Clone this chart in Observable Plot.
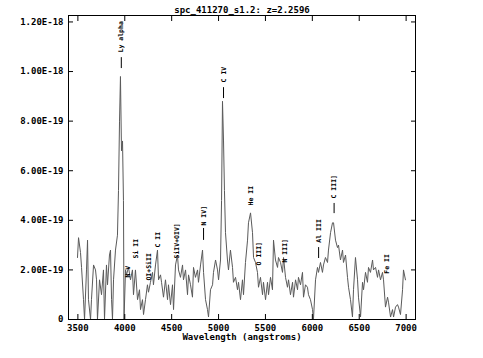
<!DOCTYPE html>
<html><head><meta charset="utf-8">
<script src="https://cdn.jsdelivr.net/npm/d3@7"></script>
<script src="https://cdn.jsdelivr.net/npm/@observablehq/plot@0.6"></script>
<style>body{margin:0;background:#fff} svg{display:block}</style>
</head><body><div id="chart"></div>
<script>
const title = "spc_411270_s1.2: z=2.2596";
const xLabel = "Wavelength (angstroms)";

// Observed wavelength (angstroms)
const wavelength = [3496,3507,3528,3539,3560,3571,3592,3603,3613,3635,
3645,3667,3688,3699,3709,3731,3752,3773,3784,3805,
3816,3837,3848,3859,3869,3880,3901,3922,3933,3944,
3954,3965,3976,3986,3992,4008,4018,4040,4061,4082,
4093,4114,4136,4157,4168,4189,4200,4221,4242,4253,
4274,4296,4306,4328,4349,4360,4381,4392,4413,4434,
4456,4466,4488,4509,4520,4541,4562,4573,4594,4616,
4626,4648,4669,4680,4701,4722,4733,4754,4776,4786,
4808,4829,4840,4861,4882,4893,4914,4936,4946,4968,
4989,5000,5021,5032,5042,5053,5063,5074,5095,5106,
5127,5149,5159,5181,5202,5213,5234,5255,5266,5287,
5309,5319,5341,5362,5373,5394,5415,5426,5447,5469,
5479,5501,5522,5533,5554,5575,5586,5607,5629,5639,
5661,5682,5693,5714,5735,5746,5767,5789,5799,5821,
5842,5852,5874,5895,5906,5927,5948,5959,5980,6002,
6012,6034,6055,6066,6087,6108,6119,6140,6162,6172,
6194,6215,6226,6247,6268,6279,6300,6322,6332,6354,
6375,6386,6407,6428,6439,6460,6482,6492,6514,6535,
6546,6567,6588,6599,6620,6642,6652,6674,6695,6706,
6727,6748,6759,6780,6802,6812,6834,6855,6866,6887,
6908,6919,6940,6962,6972,6993];

// Flux in units of 1E-19
const flux = [2.5,3.3,2.7,2.1,0.8,0.0,2.0,3.2,0.8,0.0,
0.8,2.2,2.0,1.6,0.0,1.6,1.0,2.0,0.0,2.2,
1.4,2.6,2.8,0.8,0.0,1.6,2.8,3.4,5.2,8.0,
9.8,6.8,7.2,4.8,0.0,2.0,1.8,2.1,1.6,2.0,
1.0,2.0,0.8,1.2,0.4,0.8,0.2,0.8,1.4,1.1,
1.5,1.9,1.4,2.2,2.8,1.6,1.8,1.5,0.9,1.6,
0.8,1.4,0.6,1.4,0.4,2.2,2.6,2.0,1.7,2.2,
1.6,2.0,1.0,1.8,1.4,0.9,2.1,1.7,2.0,1.5,
2.2,2.8,1.9,0.8,0.4,0.1,1.2,1.4,1.9,2.4,
2.0,1.6,2.4,4.8,8.8,7.2,5.2,3.5,2.4,2.0,
2.8,2.1,1.5,1.7,1.2,1.5,0.8,1.6,1.0,2.3,
3.2,3.9,4.3,3.5,2.5,2.3,1.9,1.3,1.7,1.0,
1.5,0.8,1.5,1.0,1.7,1.2,3.2,2.4,2.1,2.5,
2.3,1.9,2.5,1.7,1.3,1.6,1.0,1.5,0.9,1.6,
1.2,1.7,1.4,1.9,0.9,1.4,1.3,1.0,0.8,0.4,
0.0,1.6,2.1,1.9,2.3,1.9,2.2,2.5,2.3,2.8,
3.5,3.9,3.9,3.2,2.9,3.0,2.4,2.8,2.3,2.6,
1.7,1.3,0.8,0.1,1.2,2.5,1.6,0.9,0.1,1.5,
1.2,1.9,1.5,2.1,1.9,2.4,2.0,2.1,1.7,2.0,
1.6,1.9,1.6,0.5,0.9,0.7,0.1,0.4,0.1,0.5,
0.6,0.5,0.2,1.2,2.0,1.6];

// Emission line labels
const lineNames = ["Ly alpha","N V","Si II","OI+SiII","C II","SiIV+OIV]","N IV]","C IV","He II","O III]","N III]","Al III","C III]","Fe II"];
const lineWave  = [3963,4034,4114,4253,4349,4552,4840,5053,5346,5435,5703,6067,6232,6798];
const lineLabelFlux = [10.77,1.69,2.46,1.57,2.90,2.46,3.79,9.56,4.60,2.18,2.30,3.10,4.88,1.85];

// Marker ticks below some labels
const markWave = [3963,4840,5053,6067,6232];
const markLow  = [10.12,3.19,8.91,2.46,4.27];
const markHigh = [10.56,3.67,9.35,2.90,4.68];

const xTicks = [3500,4000,4500,5000,5500,6000,6500,7000];
const yTicks = [0,2e-19,4e-19,6e-19,8e-19,1e-18,1.2e-18];
const yTickLabels = ["0","2.00E-19","4.00E-19","6.00E-19","8.00E-19","1.00E-18","1.20E-18"];

const U = 1e-19;
const spectrum = wavelength.map((w, i) => ({w, f: flux[i] * U}));
const labels = lineNames.map((name, i) => ({name, w: lineWave[i], f: lineLabelFlux[i] * U}));
const marks = markWave.map((w, i) => ({w, y1: markLow[i] * U, y2: markHigh[i] * U}));

const font = "DejaVu Sans Mono";
const T = 5;
const chart = Plot.plot({
  width: 483, height: 358,
  marginLeft: 68, marginRight: 68, marginTop: 15, marginBottom: 39,
  style: {fontFamily: font, fontWeight: "bold", fontSize: "9px", background: "white", color: "black"},
  x: {domain: [3400, 7100]},
  y: {domain: [0, 1.226e-18]},
  marks: [
    Plot.line(spectrum, {x: "w", y: "f", stroke: "#5a5a5a", strokeWidth: 1}),
    Plot.ruleX(marks, {x: "w", y1: "y1", y2: "y2", stroke: "black", strokeWidth: 1}),
    Plot.text(labels, {x: "w", y: "f", text: "name", rotate: -90, textAnchor: "start", lineAnchor: "middle", fontSize: 6.5, fontWeight: "bold", fontFamily: font, fill: "black"}),
    Plot.axisX({anchor: "bottom", ticks: xTicks, tickSize: T, dy: -T, tickFormat: () => "", label: null}),
    Plot.axisX({anchor: "top", ticks: xTicks, tickSize: T, dy: T, tickFormat: () => "", label: null}),
    Plot.axisY({anchor: "left", ticks: yTicks, tickSize: T, dx: T, tickFormat: () => "", label: null}),
    Plot.axisY({anchor: "right", ticks: yTicks, tickSize: T, dx: -T, tickFormat: () => "", label: null}),
    Plot.axisX({anchor: "bottom", ticks: xTicks, tickSize: 0, tickPadding: 5, tickFormat: d => String(d), label: null, fontWeight: "bold"}),
    Plot.axisY({anchor: "left", ticks: yTicks, tickSize: 0, tickPadding: 5, tickFormat: d => yTickLabels[yTicks.indexOf(d)], label: null, fontWeight: "bold"}),
    Plot.frame({stroke: "black", strokeWidth: 1}),
    Plot.text([title], {frameAnchor: "top", dy: -9, fontSize: 9, fontWeight: "bold", fontFamily: font}),
    Plot.text([xLabel], {frameAnchor: "bottom", dy: 20, fontSize: 9, fontWeight: "bold", fontFamily: font})
  ]
});
document.getElementById("chart").appendChild(chart);
</script>
</body></html>
